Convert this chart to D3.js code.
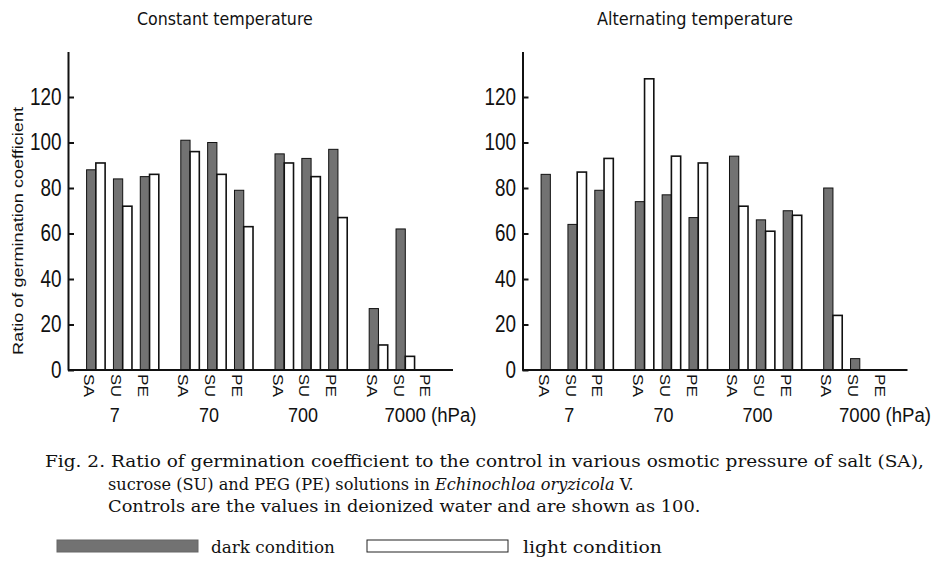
<!DOCTYPE html>
<html>
<head>
<meta charset="utf-8">
<script src="https://cdn.jsdelivr.net/npm/d3@7"></script>
<style>
  html, body { margin: 0; padding: 0; background: #fff; }
  svg { display: block; }
</style>
</head>
<body>
<svg id="chart" width="939" height="564"></svg>
<script>
// ---- data ----
const pressures = ["7", "70", "700", "7000"];
const solutes = ["SA", "SU", "PE"];
const conditions = ["dark", "light"];
const yTicks = [0, 20, 40, 60, 80, 100, 120];
// values ordered pressure-major: 7 SA, 7 SU, 7 PE, 70 SA, ...
const constantDark  = [88, 84, 85, 101, 100, 79, 95, 93, 97, 27, 62, 0];
const constantLight = [91, 72, 86, 96, 86, 63, 91, 85, 67, 11, 6, 0];
const alternatingDark  = [86, 64, 79, 74, 77, 67, 94, 66, 70, 80, 5, 0];
const alternatingLight = [0, 87, 93, 128, 94, 91, 72, 61, 68, 24, 0, 0];
const panelTitles = ["Constant temperature", "Alternating temperature"];
const yAxisTitle = "Ratio of germination coefficient";
const unitLabel = "(hPa)";
const captionLines = [
  ["Fig. 2.  Ratio of germination coefficient to the control in various osmotic pressure of salt (SA),"],
  ["sucrose (SU) and PEG (PE) solutions in ", "Echinochloa oryzicola", " V."],
  ["Controls are the values in deionized water and are shown as 100."]
];
const legendLabels = ["dark condition", "light condition"];

// ---- drawing ----
const svg = d3.select("#chart");
const sans = "'Liberation Sans', Arial, sans-serif";
const serif = "'DejaVu Serif', 'Liberation Serif', serif";
const darkFill = "#727272";
const ink = "#111";

const y = d3.scaleLinear().domain([0, 140]).range([370, 51.5]);

// horizontally squeeze/stretch a text element to a target width
function fitWidth(sel, target, x, yy, anchor) {
  const w = sel.node().getComputedTextLength();
  const k = target / w;
  let x0 = x;
  if (anchor === "middle") x0 = x - target / 2;
  if (anchor === "end") x0 = x - target;
  sel.attr("x", 0).attr("y", 0).attr("text-anchor", "start")
    .attr("transform", `translate(${x0},${yy}) scale(${k},1)`);
}

function panel(axisX, dark, light, title, titleX, titleLen, showYTitle) {
  const g = svg.append("g");
  const outer = d3.scaleBand().domain(pressures)
    .range([axisX + 7.6, axisX + 384.4]).paddingInner(0.145).paddingOuter(0.0725);
  const inner = d3.scaleBand().domain(solutes)
    .range([0, outer.bandwidth()]).paddingInner(0.31).paddingOuter(0.155);
  const cond = d3.scaleBand().domain(conditions).range([0, inner.bandwidth()]).padding(0);

  const rows = [];
  pressures.forEach((p, pi) => solutes.forEach((s, si) => {
    const i = pi * solutes.length + si;
    rows.push({ p, s, c: "dark", v: dark[i] });
    rows.push({ p, s, c: "light", v: light[i] });
  }));

  g.selectAll("rect.bar").data(rows.filter(d => d.v > 0)).join("rect")
    .attr("class", "bar")
    .attr("x", d => outer(d.p) + inner(d.s) + cond(d.c))
    .attr("width", cond.bandwidth())
    .attr("y", d => y(d.v))
    .attr("height", d => y(0) - y(d.v))
    .attr("fill", d => d.c === "dark" ? darkFill : "#fff")
    .attr("stroke", ink)
    .attr("stroke-width", d => d.c === "dark" ? 1 : 1.6);

  // baseline
  g.append("line")
    .attr("x1", axisX).attr("x2", axisX + 385)
    .attr("y1", y(0)).attr("y2", y(0))
    .attr("stroke", ink).attr("stroke-width", 2);

  // y axis
  const ax = g.append("g").attr("transform", `translate(${axisX},0)`)
    .call(d3.axisLeft(y).tickValues(yTicks).tickSizeInner(-6).tickSizeOuter(0).tickPadding(6.5));
  ax.select(".domain").attr("stroke", ink).attr("stroke-width", 2);
  ax.selectAll(".tick line").attr("stroke", ink).attr("stroke-width", 2);
  ax.selectAll(".tick text")
    .attr("font-family", sans).attr("font-size", 23).attr("fill", ink)
    .attr("textLength", d => String(d).length * 10.5)
    .attr("lengthAdjust", "spacingAndGlyphs");

  // solute labels (rotated)
  const labels = [];
  pressures.forEach(p => solutes.forEach(s => labels.push({ p, s })));
  g.selectAll("text.sol").data(labels).join("text")
    .attr("class", "sol")
    .attr("transform", d => `translate(${outer(d.p) + inner(d.s) + cond("dark") + cond.bandwidth() / 2 - 2},374) rotate(90)`)
    .attr("dy", "0.36em")
    .attr("font-family", sans)
    .attr("font-size", 14)
    .attr("textLength", 23).attr("lengthAdjust", "spacingAndGlyphs")
    .attr("fill", ink)
    .text(d => d.s);

  // pressure labels
  pressures.forEach((d, i) => {
    const t = g.append("text")
      .attr("font-family", sans).attr("font-size", 21).attr("fill", ink)
      .text(i < 3 ? d : d + " " + unitLabel);
    if (i < 3) {
      fitWidth(t, d.length * 10, outer(d) + inner("SU") + inner.bandwidth() / 2 - 8, 422, "middle");
    } else {
      fitWidth(t, 92, outer(d) + inner("SA") + inner.bandwidth() / 2 + 6, 422, "start");
    }
  });

  // title
  const tt = g.append("text")
    .attr("font-family", "'DejaVu Sans', sans-serif").attr("font-size", 17)
    .attr("fill", ink)
    .text(title);
  fitWidth(tt, titleLen, titleX, 25, "start");

  if (showYTitle) {
    svg.append("text")
      .attr("transform", "translate(23,231) rotate(-90)")
      .attr("text-anchor", "middle")
      .attr("font-family", sans).attr("font-size", 15.5)
      .attr("textLength", 248).attr("lengthAdjust", "spacingAndGlyphs")
      .attr("fill", ink)
      .text(yAxisTitle);
  }
}

panel(68, constantDark, constantLight, panelTitles[0], 137, 176, true);
panel(522.5, alternatingDark, alternatingLight, panelTitles[1], 597, 196, false);

// caption
const capPos = [[45, 467, 879], [108, 490, 526], [108, 512, 593]];
captionLines.forEach((parts, li) => {
  const t = svg.append("text")
    .attr("font-family", serif).attr("font-size", 16).attr("fill", ink);
  parts.forEach((p, i) => t.append("tspan")
    .attr("font-style", li === 1 && i === 1 ? "italic" : "normal").text(p));
  fitWidth(t, capPos[li][2], capPos[li][0], capPos[li][1], "start");
});

// legend
const legend = [
  { c: "dark", label: legendLabels[0], x: 57, tx: 211, len: 124 },
  { c: "light", label: legendLabels[1], x: 367, tx: 523, len: 139 }
];
legend.forEach(d => {
  svg.append("rect").attr("x", d.x).attr("y", 540).attr("width", 141).attr("height", 12)
    .attr("fill", d.c === "dark" ? darkFill : "#fff")
    .attr("stroke", d.c === "dark" ? "#666" : "#222").attr("stroke-width", 1);
  const t = svg.append("text")
    .attr("font-family", serif).attr("font-size", 16).attr("fill", ink)
    .text(d.label);
  fitWidth(t, d.len, d.tx, 553, "start");
});
</script>
</body>
</html>
